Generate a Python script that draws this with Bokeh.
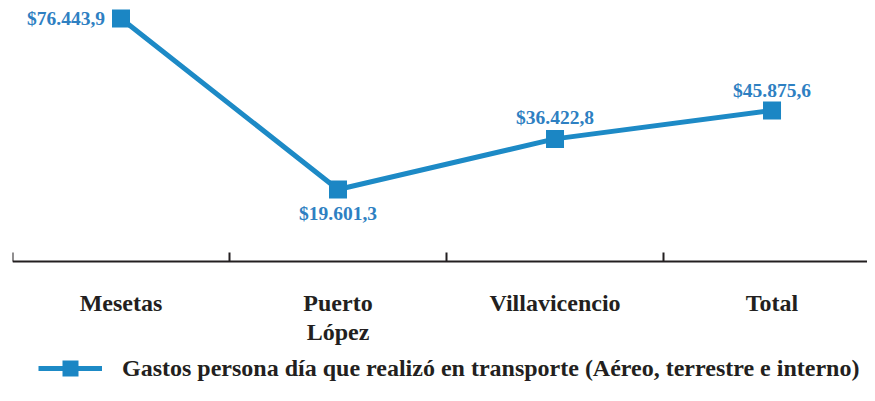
from bokeh.plotting import figure
from bokeh.models import FixedTicker, Legend, LegendItem, Range1d
from bokeh.core.properties import value
from bokeh.embed import file_html
from bokeh.resources import INLINE

categories = ["Mesetas", "Puerto\nLópez", "Villavicencio", "Total"]
gasto = [76443.9, 19601.3, 36422.8, 45875.6]
series_name = "Gastos persona día que realizó en transporte (Aéreo, terrestre e interno)"


def fmt(v):
    s = f"{v:,.1f}"
    return "$" + s.replace(",", "X").replace(".", ",").replace("X", ".")


xs = list(range(len(categories)))
labels = [fmt(v) for v in gasto]

FONT = "Liberation Serif"
DARK = "#231f20"
LINE_C = "#1d8ac6"
LABEL_C = "#2e80c2"

p = figure(width=867, height=385, output_backend="svg", toolbar_location=None,
           x_range=Range1d(-0.5, 3.440), y_range=Range1d(-45552, 79768),
           min_border_left=12, min_border_right=0, min_border_top=8,
           min_border_bottom=0)
p.outline_line_color = None
p.xgrid.visible = False
p.ygrid.visible = False
p.yaxis.visible = False

ax = p.xaxis[0]
ax.fixed_location = -4333
ax.ticker = FixedTicker(ticks=xs, minor_ticks=[x - 0.5 for x in xs])
ax.major_label_overrides = {x: c for x, c in zip(xs, categories)}
ax.major_tick_in = 0
ax.major_tick_out = 0
ax.minor_tick_in = 9
ax.minor_tick_out = 0
ax.minor_tick_line_color = DARK
ax.minor_tick_line_width = 2
ax.axis_line_color = DARK
ax.axis_line_width = 2
ax.major_label_standoff = 28
ax.major_label_text_font = FONT
ax.major_label_text_font_style = "bold"
ax.major_label_text_font_size = "24px"
ax.major_label_text_color = DARK
ax.major_label_text_line_height = 1.12

line_r = p.line(xs, gasto, line_width=5, line_color=LINE_C)
sq_r = p.scatter(xs, gasto, marker="square", size=18, fill_color="#1b86c4",
                 line_color=None)

# value labels: (align, x_offset, y_offset) per point
placements = [("right", -16, 0), ("center", 0, 24), ("center", 0, -21), ("center", 0, -20)]
for i, (al, dx, dy) in enumerate(placements):
    p.text(x=[xs[i]], y=[gasto[i]], text=[labels[i]], text_align=al,
           text_baseline="middle", x_offset=dx, y_offset=dy,
           text_font=value(FONT), text_font_style="bold", text_font_size="19.5px",
           text_color=LABEL_C)

legend = Legend(items=[LegendItem(label=series_name, renderers=[line_r, sq_r])],
                location=(26, -3), glyph_width=64, glyph_height=40,
                label_standoff=20, padding=0, margin=0, spacing=0,
                border_line_color=None, background_fill_alpha=0,
                label_text_font=FONT, label_text_font_style="bold",
                label_text_font_size="24px", label_text_color=DARK)
p.add_layout(legend, "center")

open("out.html", "w").write(file_html(p, INLINE))
